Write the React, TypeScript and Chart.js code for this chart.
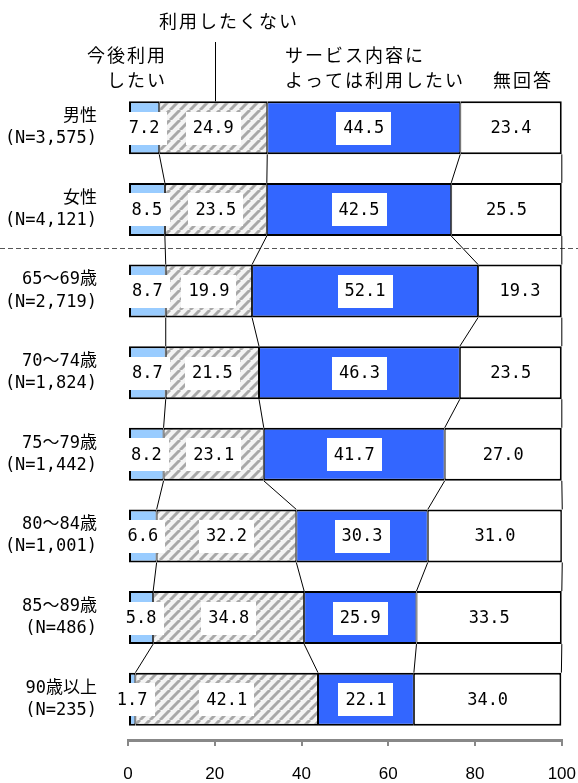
import React, { useEffect, useRef } from "react";
import { Chart, registerables } from "chart.js";

Chart.register(...registerables);

const categories: string[][] = [
  ["男性", "(N=3,575)"],
  ["女性", "(N=4,121)"],
  ["65～69歳", "(N=2,719)"],
  ["70～74歳", "(N=1,824)"],
  ["75～79歳", "(N=1,442)"],
  ["80～84歳", "(N=1,001)"],
  ["85～89歳", "(N=486)"],
  ["90歳以上", "(N=235)"],
];
const seriesNames = ["今後利用したい", "利用したくない", "サービス内容によっては利用したい", "無回答"];
const wantToUse = [7.2, 8.5, 8.7, 8.7, 8.2, 6.6, 5.8, 1.7];
const notWant = [24.9, 23.5, 19.9, 21.5, 23.1, 32.2, 34.8, 42.1];
const dependsOnService = [44.5, 42.5, 52.1, 46.3, 41.7, 30.3, 25.9, 22.1];
const noAnswer = [23.4, 25.5, 19.3, 23.5, 27.0, 31.0, 33.5, 34.0];
const xTickValues = [0, 20, 40, 60, 80, 100];

const CJK = "'Noto Sans CJK JP', sans-serif";
const MONO = "'DejaVu Sans Mono', 'Noto Sans CJK JP', monospace";

function makeHatch(ctx: CanvasRenderingContext2D): CanvasPattern | string {
  const c = document.createElement("canvas");
  c.width = 10;
  c.height = 10;
  const g = c.getContext("2d");
  if (!g) return "#ddd";
  g.fillStyle = "#f4f4f4";
  g.fillRect(0, 0, 10, 10);
  g.strokeStyle = "#a8a8a8";
  g.lineWidth = 3;
  for (const o of [-10, 0, 10]) {
    g.beginPath();
    g.moveTo(o, 10);
    g.lineTo(o + 10, 0);
    g.stroke();
  }
  return ctx.createPattern(c, "repeat") || "#ddd";
}

const decorPlugin = {
  id: "decor",
  beforeDatasetsDraw(chart: any) {
    const ctx: CanvasRenderingContext2D = chart.ctx;
    const ys = chart.scales.y;
    const yd = Math.round((ys.getPixelForValue(1) + ys.getPixelForValue(2)) / 2) - 1.5;
    ctx.save();
    ctx.strokeStyle = "#555";
    ctx.lineWidth = 1;
    ctx.setLineDash([5, 3]);
    ctx.beginPath();
    ctx.moveTo(0, yd);
    ctx.lineTo(chart.width, yd);
    ctx.stroke();
    ctx.restore();
    ctx.save();
    ctx.strokeStyle = "#000";
    ctx.lineWidth = 1;
    for (let d = 0; d < 4; d++) {
      const meta = chart.getDatasetMeta(d);
      for (let i = 0; i < meta.data.length - 1; i++) {
        const a: any = meta.data[i];
        const b: any = meta.data[i + 1];
        ctx.beginPath();
        ctx.moveTo(a.x, a.y + a.height / 2);
        ctx.lineTo(b.x, b.y - b.height / 2);
        ctx.stroke();
      }
    }
    ctx.restore();
  },
  afterDatasetsDraw(chart: any) {
    const ctx: CanvasRenderingContext2D = chart.ctx;
    ctx.save();
    ctx.font = `17px ${MONO}`;
    ctx.textAlign = "center";
    ctx.textBaseline = "middle";
    for (let d = 0; d < 4; d++) {
      const meta = chart.getDatasetMeta(d);
      const vals = chart.data.datasets[d].data;
      meta.data.forEach((el: any, i: number) => {
        const txt = Number(vals[i]).toFixed(1);
        const cx = (el.x + el.base) / 2;
        const cy = el.y;
        const tw = ctx.measureText(txt).width;
        if (d < 3) {
          ctx.fillStyle = "#fff";
          ctx.fillRect(Math.round(cx - tw / 2 - 7), Math.round(cy - 16), Math.round(tw + 14), 33);
        }
        ctx.fillStyle = "#000";
        ctx.fillText(txt, cx, cy + 1);
      });
    }
    ctx.restore();
  },
  afterDraw(chart: any) {
    const ctx: CanvasRenderingContext2D = chart.ctx;
    const xs = chart.scales.x;
    const first: any = chart.getDatasetMeta(1).data[0];
    ctx.save();
    ctx.fillStyle = "#000";
    ctx.font = `18px ${CJK}`;
    (ctx as any).letterSpacing = "2px";
    ctx.textBaseline = "middle";
    ctx.textAlign = "center";
    ctx.fillText("利用したくない", 229, 21);
    ctx.textAlign = "right";
    ctx.fillText("今後利用", 167, 55);
    ctx.fillText("したい", 167, 80);
    ctx.textAlign = "left";
    ctx.fillText("サービス内容に", 285, 55);
    ctx.fillText("よっては利用したい", 285, 80);
    ctx.fillText("無回答", 493, 80);
    const lx = Math.round(xs.getPixelForValue(20)) + 0.5;
    ctx.strokeStyle = "#000";
    ctx.lineWidth = 1;
    ctx.beginPath();
    ctx.moveTo(lx, 42);
    ctx.lineTo(lx, first.y - first.height / 2);
    ctx.stroke();
    ctx.restore();
  },
};

function borders(d: number) {
  return { top: 2, bottom: 2, left: d === 0 ? 2 : 1, right: d === 3 ? 2 : 1 };
}

export default function App() {
  const ref = useRef<HTMLCanvasElement | null>(null);
  useEffect(() => {
    document.body.style.margin = "0";
    const canvas = ref.current;
    if (!canvas) return;
    const ctx = canvas.getContext("2d")!;
    const hatch = makeHatch(ctx);
    const common = { borderColor: "#000", borderSkipped: false as const };
    const chart = new Chart(canvas, {
      type: "bar",
      data: {
        labels: categories,
        datasets: [
          { label: seriesNames[0], data: wantToUse, backgroundColor: "#99CCFF", borderWidth: borders(0), ...common },
          { label: seriesNames[1], data: notWant, backgroundColor: hatch as any, borderWidth: borders(1), ...common },
          { label: seriesNames[2], data: dependsOnService, backgroundColor: "#3366FF", borderWidth: borders(2), ...common },
          { label: seriesNames[3], data: noAnswer, backgroundColor: "#FFFFFF", borderWidth: borders(3), ...common },
        ],
      },
      options: {
        indexAxis: "y",
        responsive: false,
        animation: false,
        events: [],
        layout: { padding: { top: 87, right: 0, left: 0, bottom: 0 } },
        datasets: { bar: { categoryPercentage: 0.65, barPercentage: 1 } },
        plugins: { legend: { display: false }, tooltip: { enabled: false } },
        scales: {
          x: {
            stacked: true,
            min: 0,
            max: 100,
            afterFit: (axis: any) => {
              axis.height = 43;
            },
            afterBuildTicks: (axis: any) => {
              axis.ticks = xTickValues.map((v) => ({ value: v }));
            },
            border: { display: true, color: "#888", width: 3 },
            grid: { drawOnChartArea: false, drawTicks: true, tickLength: 6, color: "#888", lineWidth: 2 },
            ticks: {
              color: "#000",
              padding: 2,
              maxRotation: 0,
              font: { family: "'Liberation Sans', Arial, sans-serif", size: 17, lineHeight: 3.1 },
            },
          },
          y: {
            stacked: true,
            afterFit: (axis: any) => {
              axis.width = 128;
            },
            border: { display: false },
            grid: { display: true, drawOnChartArea: false, drawTicks: true, tickLength: 31, color: "rgba(0,0,0,0)" },
            ticks: {
              color: "#000",
              padding: 0,
              font: { family: MONO, size: 17, lineHeight: 1.3 },
            },
          },
        },
      },
      plugins: [decorPlugin],
    });
    return () => chart.destroy();
  }, []);
  return <canvas ref={ref} width={578} height={783} style={{ display: "block" }} />;
}
